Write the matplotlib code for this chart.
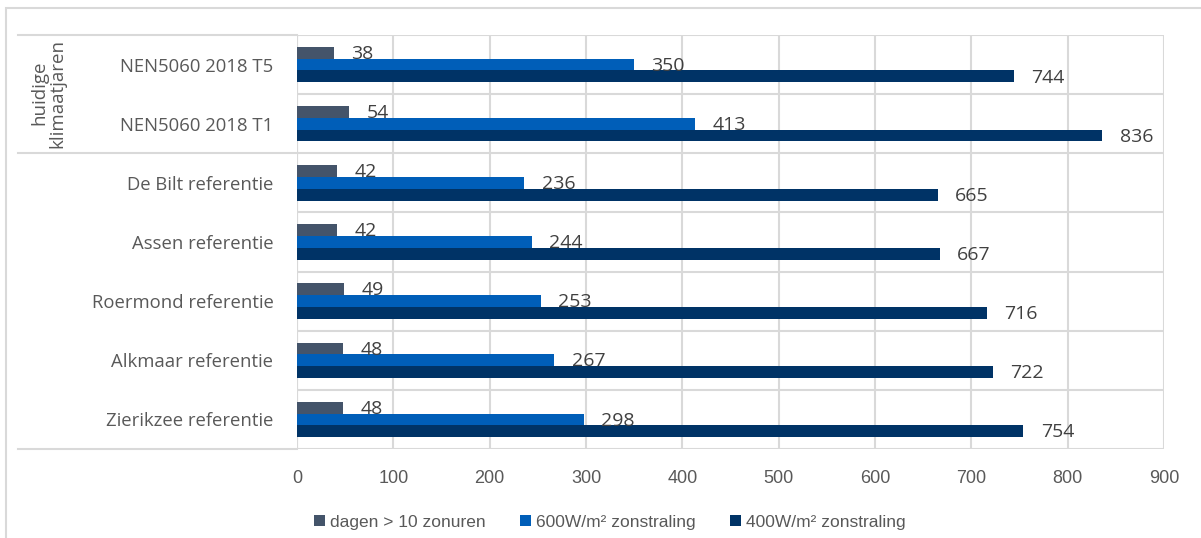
import matplotlib
matplotlib.use("Agg")
import matplotlib.pyplot as plt
from matplotlib.lines import Line2D
from matplotlib.patches import Rectangle
import numpy as np

# data, top to bottom
categories = ["NEN5060 2018 T5", "NEN5060 2018 T1", "De Bilt referentie",
              "Assen referentie", "Roermond referentie", "Alkmaar referentie",
              "Zierikzee referentie"]
dagen = [38, 54, 42, 42, 49, 48, 48]
w600 = [350, 413, 236, 244, 253, 267, 298]
w400 = [744, 836, 665, 667, 716, 722, 754]
series_names = ["dagen > 10 zonuren", "600W/m² zonstraling", "400W/m² zonstraling"]
colors = ["#44546A", "#005EB8", "#003366"]
xticks = [0, 100, 200, 300, 400, 500, 600, 700, 800, 900]

W, H = 1201, 538
fig = plt.figure(figsize=(W / 100, H / 100), dpi=100)
ax = fig.add_axes([297 / W, 1 - 449 / H, (1164 - 297) / W, (449 - 35) / H])

text_col = "#595959"
grid_col = "#D9D9D9"
lab_font = ["Open Sans", "DejaVu Sans"]
narrow = ["Liberation Sans Narrow", "Liberation Sans", "DejaVu Sans"]

n = len(categories)
y = np.arange(n)
bh = 0.2
for k, (vals, c) in enumerate(zip([dagen, w600, w400], colors)):
    pos = y - bh + k * bh
    bars = ax.barh(pos, vals, height=bh, color=c, label=series_names[k], zorder=3)
    for b, v in zip(bars, vals):
        ax.text(v + 18, b.get_y() + b.get_height() / 2 + 0.02, str(v),
                va="center", ha="left", fontsize=14, color="#404040",
                family=lab_font, zorder=4)

ax.set_ylim(n - 0.5, -0.5)
ax.set_xlim(0, 900)
ax.set_xticks(xticks)
ax.set_xticklabels([str(t) for t in xticks], fontsize=13, color=text_col, family=narrow)
ax.tick_params(axis="x", length=0, pad=15)
ax.set_yticks(y)
ax.set_yticklabels(categories, fontsize=13.3, color=text_col, family=lab_font)
ax.tick_params(axis="y", length=0, pad=17)

for s in ax.spines.values():
    s.set_visible(False)
ax.grid(axis="x", color=grid_col, linewidth=1.5, zorder=0)
for b in np.arange(n + 1) - 0.5:
    ax.axhline(b, color=grid_col, linewidth=1.5, zorder=1)
ax.axvline(0, color=grid_col, linewidth=1.5, zorder=1)

# lines extending into the label area
for yy in [35, 153, 449]:
    fig.add_artist(Line2D([18 / W, 297 / W], [1 - yy / H, 1 - yy / H],
                          color=grid_col, linewidth=1.5))

# outer chart frame
fig.add_artist(Rectangle((6 / W, -0.05), 1.1, 1 - 8 / H + 0.05, fill=False,
                         edgecolor=grid_col, linewidth=1.5, transform=fig.transFigure))

fig.text(48 / W, 1 - 93 / H, "huidige\nklimaatjaren", rotation=90, ha="center",
         va="center", fontsize=13.5, color=text_col, family=lab_font,
         linespacing=1.0)

ax.legend(loc="center", bbox_to_anchor=(610 / W, 1 - 522 / H),
          bbox_transform=fig.transFigure, ncol=3, frameon=False,
          prop={"family": narrow, "size": 12.5}, labelcolor=text_col,
          handlelength=0.6, handleheight=0.6, handletextpad=0.3, columnspacing=2.0)

fig.savefig("out.png", dpi=100)
